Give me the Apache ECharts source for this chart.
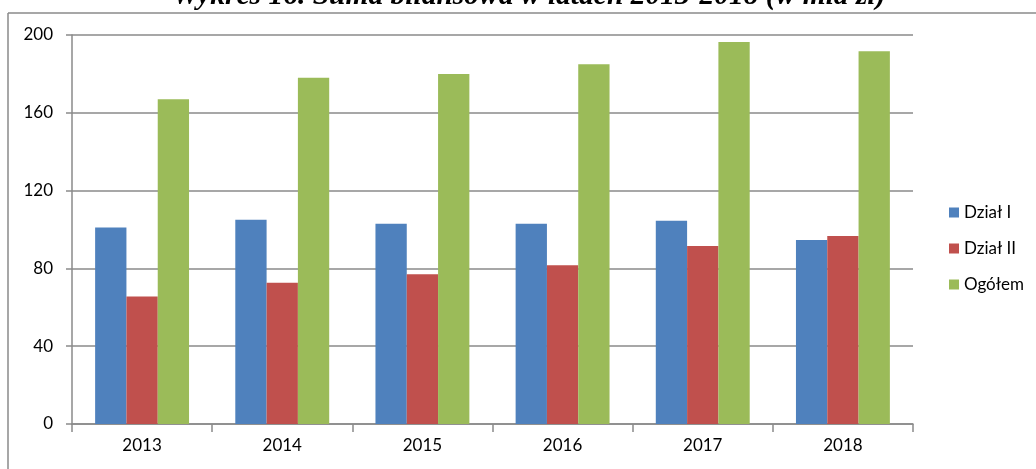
<!DOCTYPE html>
<html>
<head>
<meta charset="utf-8">
<script src="https://cdn.jsdelivr.net/npm/echarts@6/dist/echarts.min.js"></script>
<style>
  html, body { margin: 0; padding: 0; background: #fff; }
  #chart { width: 1036px; height: 469px; }
</style>
</head>
<body>
<div id="chart"></div>
<script>
// dane z wykresu (mld zł)
const years = ['2013', '2014', '2015', '2016', '2017', '2018']
const dzialI = [101, 105, 103, 103, 104.5, 94.6]
const dzialII = [65.5, 72.6, 77, 81.6, 91.5, 96.7]
const ogolem = [167, 178, 180, 185, 196.4, 191.6]
const seriesNames = ['Dział I', 'Dział II', 'Ogółem']
const colors = ['#4F81BD', '#C0504D', '#9BBB59']

const chart = echarts.init(document.getElementById('chart'))

const labelFont = 'Lato, "Open Sans", sans-serif'

const option = {
  animation: false,
  color: colors,
  grid: { left: 72, right: 123, top: 35, bottom: 45 },
  graphic: [
    {
      type: 'text',
      x: 529,
      y: 11,
      style: {
        text: 'Wykres 16. Suma bilansowa w latach 2013-2018 (w mld zł)',
        font: 'bold italic 29.5px "Liberation Serif", serif',
        fill: '#000',
        textAlign: 'center',
        textVerticalAlign: 'bottom'
      },
      z: 1
    },
    {
      type: 'line',
      shape: { x1: 8, y1: 13, x2: 1036, y2: 13 },
      style: { stroke: '#8a8a8a', lineWidth: 1.5 },
      z: 2
    },
    {
      type: 'line',
      shape: { x1: 8, y1: 13, x2: 8, y2: 469 },
      style: { stroke: '#8a8a8a', lineWidth: 1.5 },
      z: 2
    }
  ],
  legend: {
    orient: 'vertical',
    left: 944,
    top: 199,
    itemWidth: 10,
    itemHeight: 10,
    itemGap: 19,
    icon: 'rect',
    textStyle: { fontFamily: labelFont, fontSize: 17, color: '#000', lineHeight: 17 },
    data: seriesNames
  },
  xAxis: {
    type: 'category',
    data: years,
    axisLine: { lineStyle: { color: '#8a8a8a', width: 1.5 } },
    axisTick: { show: true, length: 8, lineStyle: { color: '#8a8a8a', width: 1.5 } },
    axisLabel: { fontFamily: labelFont, fontSize: 17, color: '#000', margin: 13 }
  },
  yAxis: {
    type: 'value',
    min: 0,
    max: 200,
    interval: 40,
    axisLine: { show: true, lineStyle: { color: '#8a8a8a', width: 1.5 } },
    axisTick: { show: true, length: 6, lineStyle: { color: '#8a8a8a', width: 1.5 } },
    axisLabel: { fontFamily: labelFont, fontSize: 17, color: '#000', margin: 19 },
    splitLine: { lineStyle: { color: '#8a8a8a', width: 1.5 } }
  },
  series: [
    { name: seriesNames[0], type: 'bar', data: dzialI, barGap: '0%', barCategoryGap: '33%' },
    { name: seriesNames[1], type: 'bar', data: dzialII, barGap: '0%', barCategoryGap: '33%' },
    { name: seriesNames[2], type: 'bar', data: ogolem, barGap: '0%', barCategoryGap: '33%' }
  ]
}

chart.setOption(option)
</script>
</body>
</html>
